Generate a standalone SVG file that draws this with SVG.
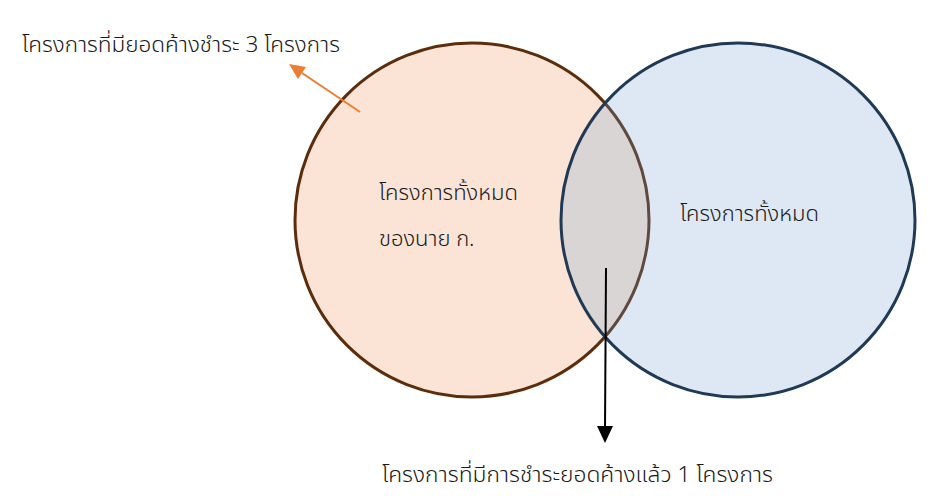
<svg xmlns="http://www.w3.org/2000/svg" width="933" height="499" viewBox="0 0 933 499">
<style>
text{font-family:"Noto Sans","Noto Sans Thai",Tahoma,sans-serif;font-size:22px;font-weight:300;fill:#1a1a1a}
.conn{fill:none;stroke-width:2}
</style>
<defs>
<clipPath id="cr"><circle cx="738" cy="220" r="177"/></clipPath>
</defs>
<rect width="933" height="499" fill="#ffffff"/>
<g id="node-left">
<circle cx="472" cy="220" r="177" fill="#fbe4d6" stroke="#5b2d0c" stroke-width="3"/>
</g>
<g id="node-right">
<circle cx="738" cy="220" r="177" fill="#dee8f4" stroke="none"/>
<circle cx="472" cy="220" r="177" fill="#d9d5d4" stroke="#5f4a3f" stroke-width="3" clip-path="url(#cr)"/>
<circle cx="738" cy="220" r="177" fill="none" stroke="#203a56" stroke-width="3"/>
</g>
<g id="labels">
<text x="22" y="52" textLength="318" lengthAdjust="spacingAndGlyphs">โครงการที่มียอดค้างชำระ 3 โครงการ</text>
<text x="379" y="200">โครงการทั้งหมด</text>
<text x="379" y="246">ของนาย ก.</text>
<text x="680" y="221">โครงการทั้งหมด</text>
<text x="382" y="482" textLength="391" lengthAdjust="spacingAndGlyphs">โครงการที่มีการชำระยอดค้างแล้ว 1 โครงการ</text>
</g>
<g id="connectors">
<line class="conn" x1="360" y1="112" x2="302" y2="73" stroke="#ed7d31"/>
<path d="M289,64 L306,67 L298,79 z" fill="#ed7d31"/>
<line class="conn" x1="606" y1="268" x2="605" y2="428" stroke="#000"/>
<path d="M597,426 L613,426 L605,443 z" fill="#000"/>
</g>
</svg>
